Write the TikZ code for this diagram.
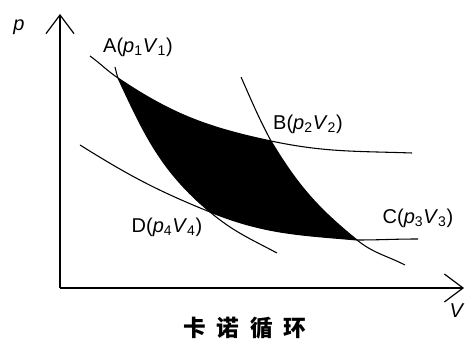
\documentclass[tikz,border=0pt]{standalone}
\usepackage{fontspec}
\setmainfont{Liberation Sans}
\newfontfamily\cjk{Noto Sans CJK SC}
\usepackage{tikz}
\usetikzlibrary{arrows.meta}

\begin{document}
\begin{tikzpicture}[
      x=0.75pt,y=-0.75pt,
      eje/.style  ={line width=0.9pt,-{Straight Barb[length=14pt,width=21pt,line width=0.9pt]}},
      curva/.style={line width=0.8pt},
      etq/.style  ={font=\fontsize{15}{18}\selectfont,inner sep=0pt}]
      \useasboundingbox (0,0) rectangle (465,342);
      \coordinate (O)    at (60,288);
      \coordinate (pmax) at (60,14);
      \coordinate (Vmax) at (464,288);
      \coordinate (A) at (118,78);
      \coordinate (B) at (271,141);
      \coordinate (C) at (357,240);
      \coordinate (D) at (210,212);
      \coordinate (a1) at (90,56);   \coordinate (a2) at (412,153);
      \coordinate (b1) at (80,145);  \coordinate (b2) at (418,239);
      \coordinate (c1) at (115,67);  \coordinate (c2) at (277,253);
      \coordinate (d1) at (241,77);  \coordinate (d2) at (405,265);
      % ciclo
      \fill (A) to[out=-34,in=168] (B) to[out=-59,in=141] (C)
        to[out=175,in=-22] (D) to[out=140,in=-65] (A) -- cycle;
      % isotermas
      \draw[curva] (a1) to[out=-36,in=146] (A) to[out=-34,in=168] (B)
        to[out=-12,in=178] (a2);
      \draw[curva] (b1) to[out=-32,in=158] (D) to[out=-22,in=175] (C)
        to[out=0,in=180] (b2);
      % adiabaticas
      \draw[curva] (c1) to[out=-75,in=110] (A) to[out=-65,in=140] (D)
        to[out=-40,in=152] (c2);
      \draw[curva] (d1) to[out=-66,in=118] (B) to[out=-59,in=141] (C)
        to[out=-39,in=153] (d2);
      % ejes
      \draw[eje] (O) -- (pmax);
      \draw[eje] (O) -- (Vmax);
      \node[etq] (lp) at (19,27)  {\textit{p}};
      \node[etq] (lV) at (457,311) {\textit{V}};
      \node[etq] (lA) at (138,47)  {A(\textit{p}\textsubscript{1}\textit{V}\textsubscript{1})};
      \node[etq] (lB) at (308,124) {B(\textit{p}\textsubscript{2}\textit{V}\textsubscript{2})};
      \node[etq] (lC) at (418,218) {C(\textit{p}\textsubscript{3}\textit{V}\textsubscript{3})};
      \node[etq] (lD) at (167,227) {D(\textit{p}\textsubscript{4}\textit{V}\textsubscript{4})};
      \node[font=\cjk\bfseries\fontsize{17}{20}\selectfont,inner sep=0pt] (tit) at (245,328)
        {卡\kern8pt 诺\kern8pt 循\kern8pt 环};
    \end{tikzpicture}
\end{document}
